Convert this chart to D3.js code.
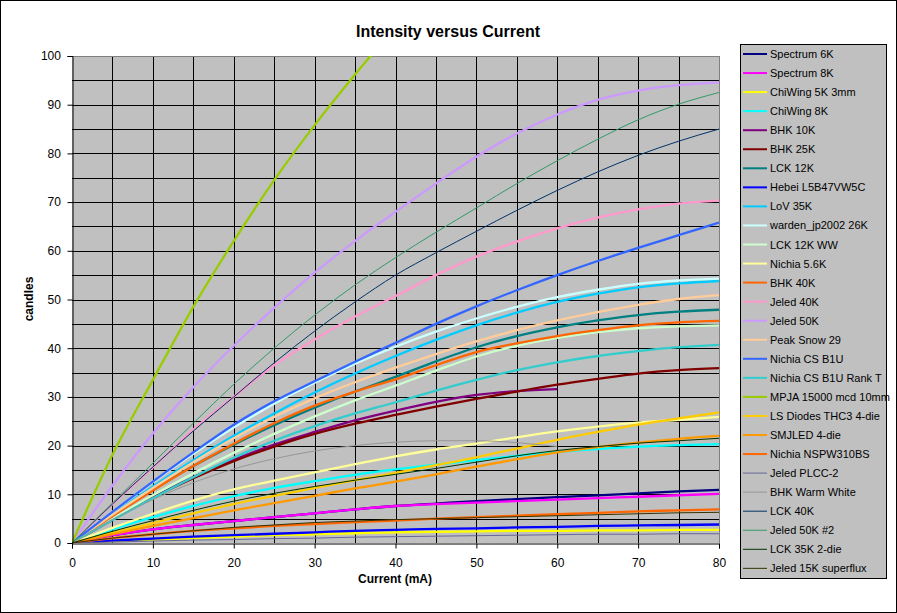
<!DOCTYPE html>
<html><head><meta charset="utf-8">
<script src="https://cdn.jsdelivr.net/npm/d3@7"></script>
<style>
html,body{margin:0;padding:0;background:#fff;}
svg{display:block;font-family:"Liberation Sans",Arial,sans-serif;}
</style></head>
<body><svg id="c" width="897" height="613"></svg>
<script>
// ---- data ----
const currents = [0,5,10,15,20,25,30,35,40,45,50,55,60,65,70,75,80];
const xTicks = [0,10,20,30,40,50,60,70,80];
const yTicks = [0,10,20,30,40,50,60,70,80,90,100];
const seriesNames = ["Spectrum 6K","Spectrum 8K","ChiWing 5K 3mm","ChiWing 8K","BHK 10K","BHK 25K","LCK 12K","Hebei L5B47VW5C","LoV 35K","warden_jp2002 26K","LCK 12K WW","Nichia 5.6K","BHK 40K","Jeled 40K","Jeled 50K","Peak Snow 29","Nichia CS B1U","Nichia CS B1U Rank T","MPJA 15000 mcd 10mm","LS Diodes THC3 4-die","SMJLED 4-die","Nichia NSPW310BS","Jeled PLCC-2","BHK Warm White","LCK 40K","Jeled 50K #2","LCK 35K 2-die","Jeled 15K superflux"];
const spectrum6K   = [0,1.6,2.8,3.7,4.5,5.3,6.1,6.9,7.6,8.1,8.6,9.0,9.4,9.8,10.2,10.6,10.9];
const spectrum8K   = [0,1.6,2.8,3.7,4.5,5.3,6.1,6.9,7.6,8.0,8.3,8.6,8.9,9.2,9.5,9.8,10.1];
const chiWing5K    = [0,0.4,0.7,1.0,1.3,1.6,1.8,2.0,2.2,2.3,2.4,2.5,2.5,2.6,2.6,2.7,2.7];
const chiWing8K    = [0,2.8,5.3,7.6,9.6,11.3,12.7,14.0,15.1,16.1,17.0,17.9,18.7,19.3,19.8,20.1,20.3];
const bhk10K       = [0,4.9,9.4,13.5,17.1,20.2,22.8,25.2,27.2,29.0,30.4,31.2,31.6,null,null,null,null];
const bhk25K       = [0,4.8,9.3,13.3,16.8,19.8,22.4,24.5,26.3,28.0,29.6,31.1,32.5,33.7,34.8,35.5,35.9];
const lck12K       = [0,5.6,10.9,15.8,20.2,24.2,27.8,31.1,34.1,37.3,40.2,42.5,44.3,45.7,46.8,47.5,47.9];
const hebei        = [0,0.5,0.9,1.3,1.6,1.9,2.2,2.5,2.7,2.9,3.0,3.2,3.3,3.5,3.6,3.7,3.8];
const lov35K       = [0,5.9,11.6,17.0,22.0,26.6,30.9,34.8,38.4,41.7,44.7,47.3,49.5,51.2,52.5,53.3,53.8];
const warden26K    = [0,6.4,12.5,18.3,23.7,28.6,32.9,36.8,40.3,43.4,46.1,48.5,50.5,52.0,53.2,53.9,54.3];
const lck12KWW     = [0,5.0,9.8,14.3,18.5,22.4,26.0,29.3,32.3,35.4,38.3,40.5,42.1,43.3,44.1,44.5,44.7];
const nichia56K    = [0,3.1,6.0,8.7,11.0,12.8,14.5,16.2,17.8,19.2,20.4,21.7,22.9,23.9,24.7,25.3,25.9];
const bhk40K       = [0,5.5,10.8,15.8,20.4,24.6,28.2,31.1,33.6,36.5,39.2,41.0,42.5,43.7,44.7,45.3,45.6];
const jeled40K     = [0,8.0,15.5,23.3,30.0,36.5,41.8,46.5,50.7,55.0,58.8,61.9,64.6,66.8,68.5,69.7,70.3];
const jeled50K     = [0,11.8,22.5,32.0,40.5,48.3,55.5,62.0,68.0,73.8,79.3,84.1,88.0,91.0,92.9,94.0,94.6];
const peakSnow29   = [0,5.8,11.3,16.6,21.5,25.9,29.7,33.0,36.0,38.8,41.4,43.7,45.7,47.4,48.9,50.1,50.9];
const nichiaB1U    = [0,6.4,12.6,18.6,24.3,29.1,33.2,37.2,41.1,45.0,48.6,51.9,55.0,57.9,60.6,63.2,65.8];
const nichiaB1UT   = [0,4.7,9.2,13.5,17.5,21.0,24.0,26.6,28.9,31.3,33.5,35.5,37.1,38.4,39.4,40.2,40.7];
const mpja15000    = [0,18.1,33.5,48.5,62.0,74.5,85.8,96.2,106.0,null,null,null,null,null,null,null,null];
const lsDiodes     = [0,2.1,4.1,6.1,8.0,9.7,11.3,12.9,14.4,16.0,17.6,19.4,21.2,22.8,24.3,25.6,26.8];
const smjled       = [0,1.8,3.5,5.1,6.7,8.2,9.7,11.2,12.6,14.1,15.7,17.2,18.6,19.7,20.6,21.4,22.0];
const nspw310      = [0,1.0,1.8,2.5,3.0,3.5,3.9,4.3,4.6,5.0,5.3,5.6,5.9,6.2,6.5,6.7,6.9];
const jeledPLCC2   = [0,0.2,0.4,0.6,0.7,0.9,1.0,1.2,1.3,1.4,1.5,1.6,1.7,1.8,1.8,1.9,1.9];
const bhkWarm      = [0,4.8,8.9,12.4,15.2,17.3,18.9,20.0,20.7,21.0,21.0,20.6,19.8,null,null,null,null];
const lck40K       = [0,8.0,15.6,23.0,30.0,37.0,43.5,49.5,55.0,59.6,64.0,68.3,72.4,76.2,79.6,82.5,85.0];
const jeled50K2    = [0,8.2,16.4,24.6,32.6,40.0,46.8,53.0,58.6,63.8,68.8,73.8,78.5,82.9,86.9,90.1,92.5];
const lck35K2die   = [0,2.4,4.6,6.7,8.6,10.2,11.6,12.9,14.1,15.3,16.6,17.9,19.0,19.8,20.5,21.0,21.5];
const jeled15K     = [0,1.0,1.8,2.5,3.2,3.7,4.2,4.5,4.8,5.0,5.2,5.4,5.6,5.8,6.0,6.2,6.3];

const seriesValues = [spectrum6K,spectrum8K,chiWing5K,chiWing8K,bhk10K,bhk25K,lck12K,hebei,lov35K,warden26K,lck12KWW,nichia56K,bhk40K,jeled40K,jeled50K,peakSnow29,nichiaB1U,nichiaB1UT,mpja15000,lsDiodes,smjled,nspw310,jeledPLCC2,bhkWarm,lck40K,jeled50K2,lck35K2die,jeled15K];

// ---- styles ----
const colors = ["#000080","#FF00FF","#FFFF00","#00FFFF","#800080","#800000","#008080","#0000FF","#00CCFF","#CCFFFF","#CCFFCC","#FFFF99","#FF6600","#FF99CC","#CC99FF","#FFCC99","#3366FF","#33CCCC","#99CC00","#FFCC00","#FF9900","#FF6600","#666699","#969696","#003366","#339966","#003300","#333300"];
const thin = new Set(["Jeled PLCC-2","BHK Warm White","LCK 40K","Jeled 50K #2","LCK 35K 2-die","Jeled 15K superflux"]);

const svg = d3.select("#c");
svg.append("rect").attr("x",0.5).attr("y",0.5).attr("width",896).attr("height",612).attr("fill","#fff").attr("stroke","#000");

const L=72,R=719,T=56,B=543;
const x = d3.scaleLinear().domain([0,80]).range([L,R]);
const y = d3.scaleLinear().domain([0,100]).range([B,T]);

svg.append("rect").attr("x",L).attr("y",T).attr("width",R-L).attr("height",B-T).attr("fill","#C0C0C0");

// gridlines every 5
const g5x = d3.range(5,81,5), g5y = d3.range(5,101,5);
svg.append("g").selectAll("line").data(g5x).join("line")
  .attr("x1",d=>Math.round(x(d))+0.5).attr("x2",d=>Math.round(x(d))+0.5).attr("y1",T).attr("y2",B)
  .attr("stroke",d=>d===80?"#808080":"#000").attr("stroke-width",1);
svg.append("g").selectAll("line").data(g5y).join("line")
  .attr("y1",d=>Math.round(y(d))+0.5).attr("y2",d=>Math.round(y(d))+0.5).attr("x1",L).attr("x2",R)
  .attr("stroke",d=>d===100?"#808080":"#000").attr("stroke-width",1);

svg.append("clipPath").attr("id","clip").append("rect").attr("x",L).attr("y",T).attr("width",R-L).attr("height",B-T);

const line = d3.line().defined(d=>d[1]!=null).x(d=>x(d[0])).y(d=>y(d[1])).curve(d3.curveMonotoneX);
const lg = svg.append("g").attr("clip-path","url(#clip)");
seriesNames.forEach((name,i)=>{
  const pts = currents.map((c,j)=>[c,seriesValues[i][j]]);
  lg.append("path").attr("d",line(pts)).attr("fill","none")
    .attr("stroke",colors[i]).attr("stroke-width",thin.has(name)?1:2.3)
    .attr("stroke-linejoin","round");
});

// axes
const xAxis = d3.axisBottom(x).tickValues(xTicks).tickSize(5).tickFormat(d3.format("d"));
const yAxis = d3.axisLeft(y).tickValues(yTicks).tickSize(5).tickFormat(d3.format("d"));
const gx = svg.append("g").attr("transform",`translate(0,${B+0.5})`).call(xAxis);
const gy = svg.append("g").attr("transform",`translate(${L+0.5},0)`).call(yAxis);
[gx,gy].forEach(g=>{
  g.select(".domain").attr("stroke","#000");
  g.selectAll(".tick line").attr("stroke","#000");
  g.selectAll("text").attr("font-size",12).attr("fill","#000").attr("font-family","'Liberation Sans',Arial,sans-serif");
});
gx.selectAll("text").attr("dy","1.25em");
gy.selectAll("text").attr("dx","-0.3em");

// titles
svg.append("text").attr("x",448).attr("y",37).attr("text-anchor","middle")
  .attr("font-size",16).attr("font-weight","bold").text("Intensity versus Current");
svg.append("text").attr("x",395).attr("y",583).attr("text-anchor","middle")
  .attr("font-size",12).attr("font-weight","bold").text("Current (mA)");
svg.append("text").attr("transform","translate(33,299) rotate(-90)").attr("text-anchor","middle")
  .attr("font-size",12).attr("font-weight","bold").text("candles");

// legend
const lgX=740.5, lgY=44.5, lgW=146, lgH=534;
svg.append("rect").attr("x",lgX).attr("y",lgY).attr("width",lgW).attr("height",lgH)
  .attr("fill","#C0C0C0").attr("stroke","#000");
const leg = svg.append("g");
seriesNames.forEach((name,i)=>{
  const yy = 54 + i*19.05;
  leg.append("line").attr("x1",743).attr("x2",767).attr("y1",yy).attr("y2",yy)
    .attr("stroke",colors[i]).attr("stroke-width",thin.has(name)?1:2);
  leg.append("text").attr("x",770).attr("y",yy+4).attr("font-size",11).attr("fill","#000").text(name);
});
</script></body></html>
